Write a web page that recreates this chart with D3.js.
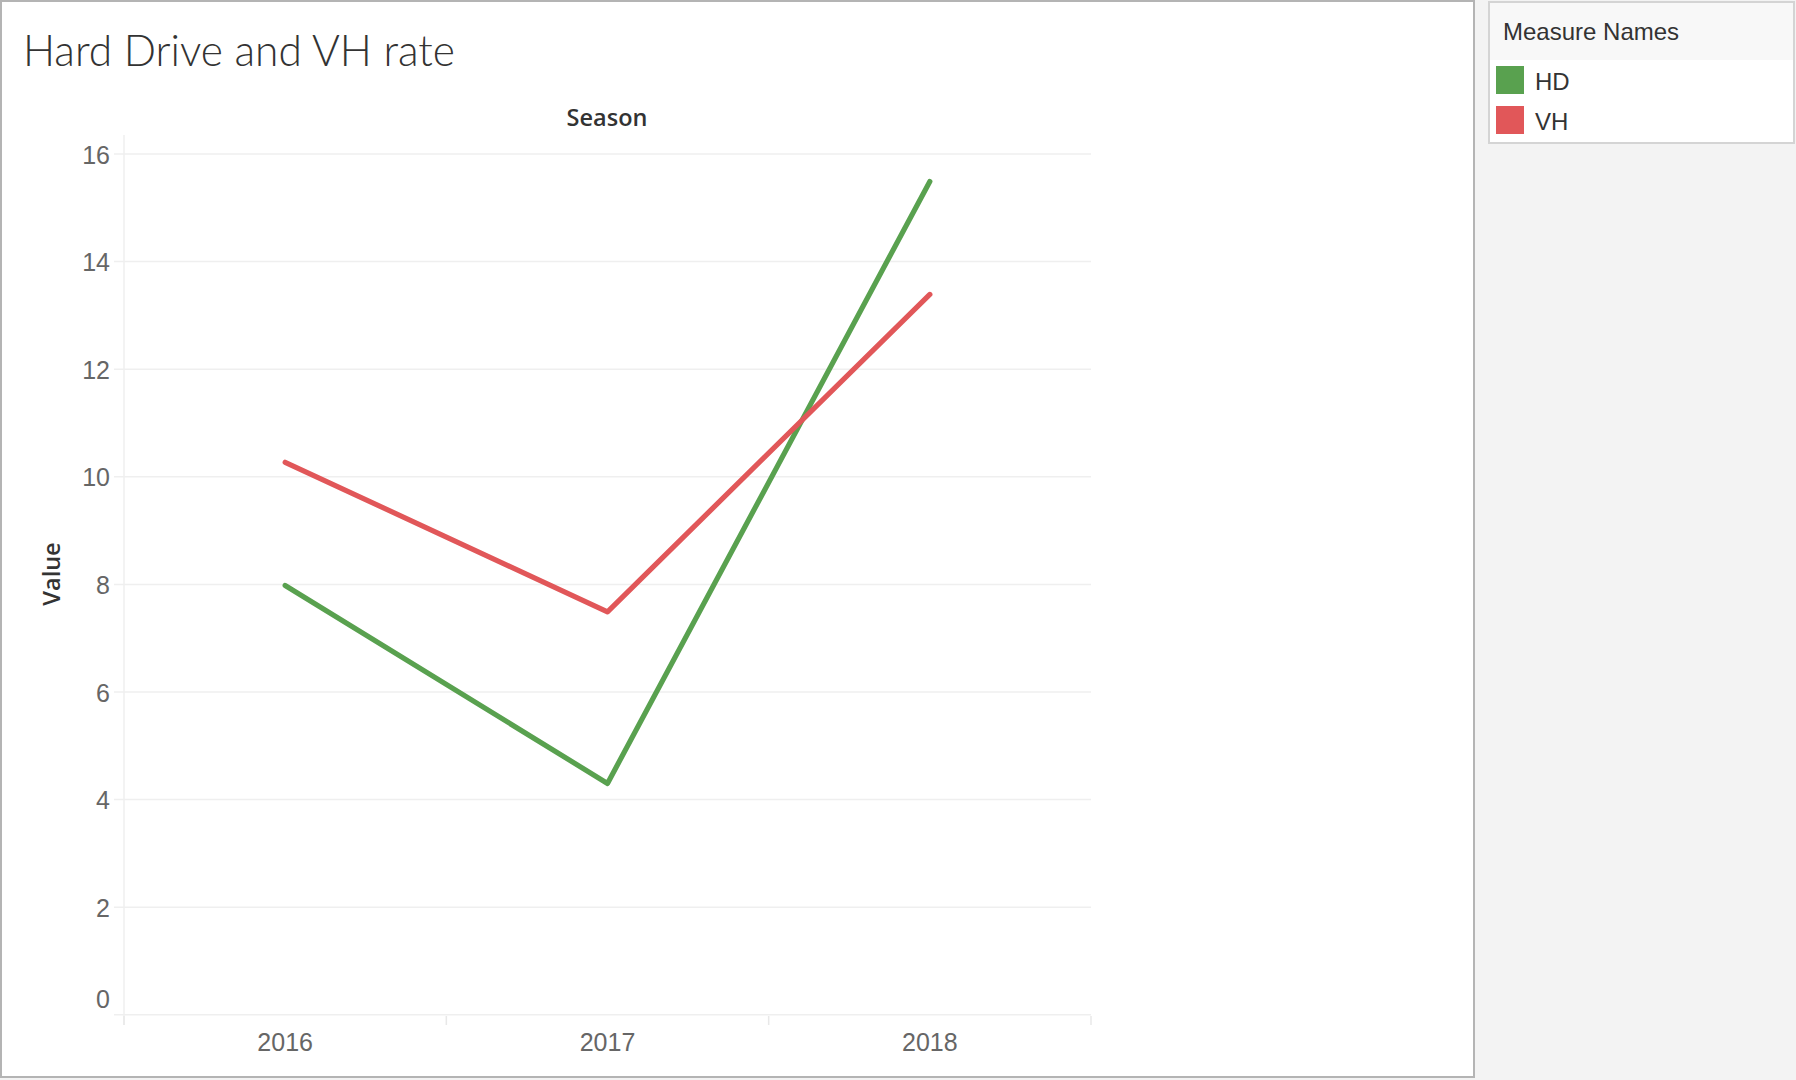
<!DOCTYPE html>
<html>
<head>
<meta charset="utf-8">
<script src="https://cdn.jsdelivr.net/npm/d3@7"></script>
<style>
  body { margin: 0; background: #fff; }
  svg { display: block; }
</style>
</head>
<body>
<div id="chart"></div>
<script>
// data
const seasons = ["2016", "2017", "2018"];
const hdValues = [7.98, 4.3, 15.49];
const vhValues = [10.27, 7.49, 13.39];
const measureNames = ["HD", "VH"];
const measureColors = ["#59a14f", "#e15759"];
const yTicks = [0, 2, 4, 6, 8, 10, 12, 14, 16];

const W = 1796, H = 1080;
const svg = d3.select("#chart").append("svg")
  .attr("width", W)
  .attr("height", H);

// side panel and worksheet frame
svg.append("rect").attr("x", 0).attr("y", 0).attr("width", W).attr("height", H).attr("fill", "#f3f3f3");
svg.append("rect")
  .attr("x", 1).attr("y", 1).attr("width", 1473).attr("height", 1076)
  .attr("fill", "#fff").attr("stroke", "#b4b4b4").attr("stroke-width", 2);

svg.append("text")
  .attr("x", 23).attr("y", 66)
  .style("font-family", "Lato, 'Open Sans', sans-serif")
  .style("font-weight", 300)
  .style("font-size", "42.5px")
  .attr("fill", "#333")
  .text("Hard Drive and VH rate");

const x = d3.scaleBand().domain(seasons).range([124, 1091]).padding(0);
const y = d3.scaleLinear().domain([0, 16]).range([1014.8, 154]);

const tickFont = "'Liberation Sans', Arial, sans-serif";

// gridlines
svg.append("g")
  .selectAll("line")
  .data(yTicks)
  .enter()
  .append("line")
    .attr("x1", 114).attr("x2", 1091)
    .attr("y1", d => y(d)).attr("y2", d => y(d))
    .attr("stroke", "#efefef")
    .attr("stroke-width", 1.5);

// y axis (labels only, tableau style)
const yAxis = svg.append("g")
  .attr("transform", "translate(124,0)")
  .call(d3.axisLeft(y).tickValues(yTicks).tickSize(0).tickPadding(14).tickFormat(d3.format("d")));
yAxis.select(".domain").remove();
yAxis.selectAll("text")
  .style("font-family", tickFont)
  .style("font-size", "25px")
  .attr("fill", "#666")
  .attr("dy", d => d === 0 ? "-0.3em" : "0.36em");   // bottom label sits above the baseline

svg.append("line")
  .attr("x1", 124).attr("x2", 124).attr("y1", 135).attr("y2", 1025)
  .attr("stroke", "#efefef").attr("stroke-width", 1.5);

// x axis
const xAxis = svg.append("g")
  .attr("transform", "translate(0,1016)")
  .call(d3.axisBottom(x).tickSize(0).tickPadding(17));
xAxis.select(".domain").remove();
xAxis.selectAll("text")
  .style("font-family", tickFont)
  .style("font-size", "25px")
  .attr("fill", "#666");

// band separators along the bottom
svg.append("g")
  .selectAll("line")
  .data(seasons.concat(["end"]))
  .enter()
  .append("line")
    .attr("x1", (d, i) => i < seasons.length ? x(d) : x.range()[1])
    .attr("x2", (d, i) => i < seasons.length ? x(d) : x.range()[1])
    .attr("y1", 1016).attr("y2", 1025)
    .attr("stroke", "#e8e8e8").attr("stroke-width", 1.5);

svg.append("text")
  .attr("x", 607).attr("y", 126)
  .attr("text-anchor", "middle")
  .style("font-family", "'Open Sans', sans-serif")
  .style("font-weight", 600)
  .style("font-size", "23.5px")
  .attr("fill", "#333")
  .text("Season");

svg.append("text")
  .attr("transform", "translate(60,574) rotate(-90)")
  .attr("text-anchor", "middle")
  .style("font-family", "'Open Sans', sans-serif")
  .style("font-weight", 600)
  .style("font-size", "23.5px")
  .attr("fill", "#333")
  .text("Value");

// lines
const series = [hdValues, vhValues];
const line = d3.line()
  .x((d, i) => x(seasons[i]) + x.bandwidth() / 2)
  .y(d => y(d));

svg.append("g")
  .selectAll("path")
  .data(series)
  .enter()
  .append("path")
    .attr("d", d => line(d))
    .attr("fill", "none")
    .attr("stroke", (d, i) => measureColors[i])
    .attr("stroke-width", 5.2)
    .attr("stroke-linecap", "round")
    .attr("stroke-linejoin", "round");

// legend
const legend = svg.append("g");
legend.append("rect")
  .attr("x", 1489).attr("y", 2).attr("width", 305).attr("height", 141)
  .attr("fill", "#fff").attr("stroke", "#d4d4d4").attr("stroke-width", 2);
legend.append("rect")
  .attr("x", 1490).attr("y", 3).attr("width", 303).attr("height", 57)
  .attr("fill", "#f8f8f8");
legend.append("text")
  .attr("x", 1503).attr("y", 40)
  .style("font-family", tickFont)
  .style("font-size", "24px")
  .attr("fill", "#333")
  .text("Measure Names");

const items = legend.selectAll(".item")
  .data(measureNames)
  .enter()
  .append("g")
    .attr("class", "item")
    .attr("transform", (d, i) => "translate(1496," + (66 + i * 40) + ")");
items.append("rect")
  .attr("width", 28).attr("height", 28)
  .attr("fill", (d, i) => measureColors[i]);
items.append("text")
  .attr("x", 39).attr("y", 24)
  .style("font-family", tickFont)
  .style("font-size", "24px")
  .attr("fill", "#333")
  .text(d => d);
</script>
</body>
</html>
